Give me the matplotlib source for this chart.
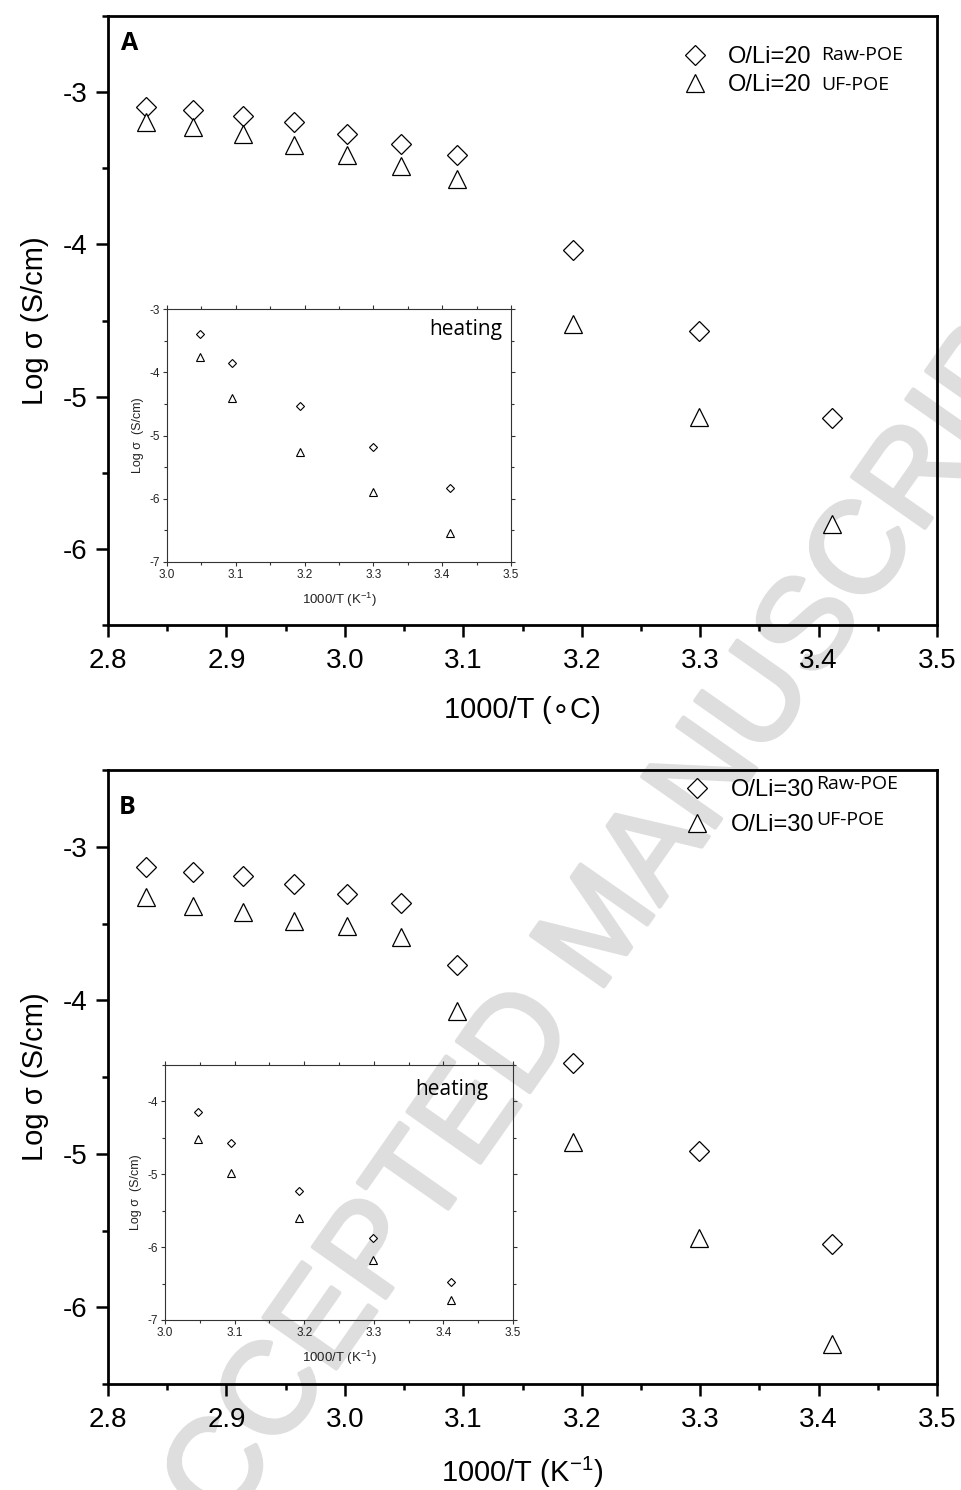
import matplotlib
matplotlib.use('Agg')
import matplotlib.pyplot as plt
import matplotlib.patheffects as pe
from matplotlib.ticker import MultipleLocator, FormatStrFormatter

plt.rcParams['font.family'] = ['Liberation Sans', 'DejaVu Sans']
plt.rcParams['axes.unicode_minus'] = False
plt.rcParams['mathtext.fontset'] = 'custom'
plt.rcParams['mathtext.rm'] = 'Liberation Sans'
plt.rcParams['mathtext.it'] = 'Liberation Sans'
plt.rcParams['mathtext.bf'] = 'Liberation Sans:bold'

# ---------------- data ----------------
x_main = [2.832, 2.872, 2.914, 2.957, 3.002, 3.047, 3.095, 3.193, 3.299, 3.411]
a_raw = [-3.095, -3.120, -3.160, -3.195, -3.272, -3.340, -3.412, -4.034, -4.567, -5.142]
a_uf = [-3.196, -3.231, -3.274, -3.349, -3.415, -3.485, -3.568, -4.522, -5.134, -5.835]
b_raw = [-3.131, -3.162, -3.192, -3.244, -3.308, -3.369, -3.771, -4.412, -4.985, -5.591]
b_uf = [-3.329, -3.384, -3.424, -3.482, -3.518, -3.588, -4.067, -4.921, -5.546, -6.240]

x_inset = [3.048, 3.095, 3.193, 3.299, 3.411]
a_in_raw = [-3.395, -3.859, -4.528, -5.176, -5.835]
a_in_uf = [-3.764, -4.407, -5.256, -5.899, -6.537]
b_in_raw = [-4.147, -4.573, -5.229, -5.872, -6.472]
b_in_uf = [-4.509, -4.982, -5.601, -6.174, -6.729]

legend_a = ['O/Li=20', 'O/Li=20']
legend_b = ['O/Li=30', 'O/Li=30']
suffixes = ['Raw-POE', 'UF-POE']

W, H = 961, 1490
fig = plt.figure(figsize=(W / 100, H / 100), dpi=100)
fig.patch.set_facecolor('white')

# watermark
wm_color = '#dedede'
fig.text(0.6275, 0.3765, 'ACCEPTED MANUSCRIPT', rotation=55, rotation_mode='anchor',
         ha='center', va='center', fontsize=93, color=wm_color,
         zorder=-5, family='Liberation Sans',
         path_effects=[pe.withStroke(linewidth=3, foreground=wm_color)])


def box(l, t, r, b):
    return [l / W, 1 - b / H, (r - l) / W, (b - t) / H]


def style_main(ax, xlabel):
    ax.set_facecolor('none')
    ax.set_xlim(2.8, 3.5)
    ax.set_ylim(-6.5, -2.5)
    ax.xaxis.set_major_locator(MultipleLocator(0.1))
    ax.xaxis.set_minor_locator(MultipleLocator(0.05))
    ax.yaxis.set_major_locator(MultipleLocator(1))
    ax.yaxis.set_minor_locator(MultipleLocator(0.5))
    ax.xaxis.set_major_formatter(FormatStrFormatter('%.1f'))
    ax.yaxis.set_major_formatter(FormatStrFormatter('%d'))
    ax.tick_params(which='both', direction='out', width=1.8, top=False, right=False)
    ax.tick_params(which='major', length=8.5, labelsize=20)
    ax.tick_params(axis='x', which='major', pad=8)
    ax.tick_params(axis='y', which='major', pad=6)
    ax.tick_params(which='minor', length=4.5)
    for s in ax.spines.values():
        s.set_linewidth(2)
    ax.set_xlabel(xlabel, fontsize=21, labelpad=16)
    ax.set_ylabel('Log σ (S/cm)', fontsize=21, labelpad=10)


def style_inset(ax, ylim):
    ax.set_facecolor('none')
    ax.set_xlim(3.0, 3.5)
    ax.set_ylim(*ylim)
    ax.xaxis.set_major_locator(MultipleLocator(0.1))
    ax.xaxis.set_minor_locator(MultipleLocator(0.05))
    ax.yaxis.set_major_locator(MultipleLocator(1))
    ax.yaxis.set_minor_locator(MultipleLocator(0.5))
    ax.xaxis.set_major_formatter(FormatStrFormatter('%.1f'))
    ax.yaxis.set_major_formatter(FormatStrFormatter('%d'))
    ax.tick_params(which='both', direction='out', width=0.8, color='#333333',
                   labelcolor='#222222', top=True, right=True)
    ax.tick_params(which='major', length=3, labelsize=8.5, pad=2)
    ax.tick_params(which='minor', length=2)
    for s in ax.spines.values():
        s.set_linewidth(0.8)
        s.set_color('#333333')
    ax.set_xlabel('1000/T (K$^{-1}$)', fontsize=9.5, labelpad=7, color='#222222')
    ax.set_ylabel('Log σ  (S/cm)', fontsize=9, labelpad=4, color='#222222')


mk = dict(linestyle='none', markerfacecolor='white', markeredgecolor='black',
          markeredgewidth=0.9)

panels = [
    dict(main=box(108, 16, 937, 625), inset=box(167, 309, 511, 562),
         raw=a_raw, uf=a_uf, in_raw=a_in_raw, in_uf=a_in_uf, in_ylim=(-7, -3),
         labels=legend_a, letter='A', letter_pos=(0.016, 0.975),
         xlabel='1000/T (\u2218C)', leg_anchor=(0.691, 0.951), leg_spacing=0.27,
         suffix_dx=[7, 7], suffix_dy=[0, -1], heat_pos=(0.975, 0.96)),
    dict(main=box(108, 770, 937, 1384), inset=box(165, 1065, 513, 1320),
         raw=b_raw, uf=b_uf, in_raw=b_in_raw, in_uf=b_in_uf, in_ylim=(-7, -3.5),
         labels=legend_b, letter='B', letter_pos=(0.013, 0.96),
         xlabel='1000/T (K$^{-1}$)', leg_anchor=(0.694, 0.985), leg_spacing=0.54,
         suffix_dx=[1.5, 1.5], suffix_dy=[3, 2], heat_pos=(0.93, 0.945)),
]

for p in panels:
    ax = fig.add_axes(p['main'])
    h1, = ax.plot(x_main, p['raw'], marker='D', markersize=10, label=p['labels'][0], **mk)
    h2, = ax.plot(x_main, p['uf'], marker='^', markersize=13, label=p['labels'][1], **mk)
    style_main(ax, p['xlabel'])
    ax.text(p['letter_pos'][0], p['letter_pos'][1], p['letter'], transform=ax.transAxes,
            ha='left', va='top', fontsize=18, fontweight='bold', family='Open Sans')
    leg = ax.legend(handles=[h1, h2], loc='upper left', bbox_to_anchor=p['leg_anchor'],
                    frameon=False, fontsize=17, borderpad=0, borderaxespad=0,
                    handlelength=1.2, handletextpad=0.8, labelspacing=p['leg_spacing'])
    for t, s, dx, dy in zip(leg.get_texts(), suffixes, p['suffix_dx'], p['suffix_dy']):
        ax.annotate(s, xy=(1, 1), xycoords=t, xytext=(dx, dy), textcoords='offset points',
                    ha='left', va='top', fontsize=14, family='Open Sans', zorder=20)

    ai = fig.add_axes(p['inset'])
    ai.plot(x_inset, p['in_raw'], marker='D', markersize=4.2, **dict(mk, markeredgewidth=0.8))
    ai.plot(x_inset, p['in_uf'], marker='^', markersize=5.5, **dict(mk, markeredgewidth=0.8))
    style_inset(ai, p['in_ylim'])
    ai.text(p['heat_pos'][0], p['heat_pos'][1], 'heating', transform=ai.transAxes,
            ha='right', va='top', fontsize=15, family='Open Sans')

fig.savefig('out.png', dpi=100, facecolor='white')
